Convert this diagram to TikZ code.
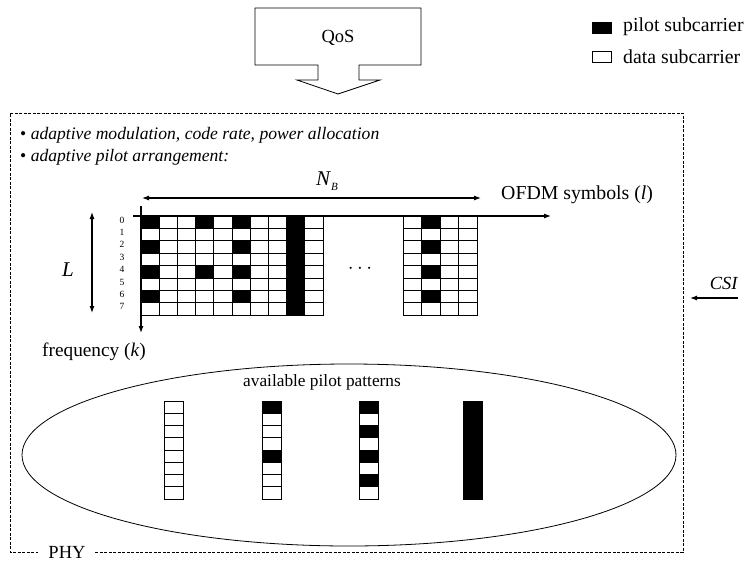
\documentclass[tikz,border=0pt]{standalone}
\usepackage{fontspec}
\setmainfont{Liberation Serif}
\usetikzlibrary{arrows.meta}
\begin{document}
\begin{tikzpicture}[x=1pt,y=-1pt,
  txt/.style={font=\fontsize{18.5}{22}\selectfont, inner sep=0pt},
  bigtxt/.style={font=\fontsize{19.8}{22}\selectfont, inner sep=0pt},
  bullettxt/.style={font=\fontsize{17.6}{20}\selectfont, inner sep=0pt},
  small/.style={font=\fontsize{9.5}{10}\selectfont, inner sep=0pt},
  cell/.style={draw=black, line width=0.8pt, fill=white},
  pilot/.style={draw=black, line width=0.8pt, fill=black},
  axis/.style={line width=1.1pt, -{Latex[length=7pt,width=5pt]}},
  dbl/.style={line width=1.1pt, {Latex[length=7pt,width=5pt]}-{Latex[length=7pt,width=5pt]}},
  phy/.style={line width=1pt, dash pattern=on 3pt off 1.5pt}]
\path[use as bounding box] (0,0) rectangle (752,565);

% QoS block arrow
\draw[line width=0.8pt] (255,8) -- (421,8) -- (421,65) -- (359,65) -- (359,80) -- (380,80)
  -- (338,94) -- (297,80) -- (318,80) -- (318,65) -- (255,65) -- cycle;
\node[txt] (qos) at (338,38) {QoS};

% legend
\fill[pilot] (592,22) rectangle (611,33);
\node[bigtxt, anchor=west] (legp) at (623,27) {pilot subcarrier};
\draw[cell] (592,51) rectangle (611,62);
\node[bigtxt, anchor=west] (legd) at (623,57) {data subcarrier};

% PHY dashed frame
\draw[phy] (95,552) -- (683,552) -- (683,113) -- (10,113) -- (10,552) -- (38,552);
\node[txt] (phy) at (67,552) {PHY};

% bullets
\node[bullettxt, anchor=west] (b1) at (20,135) {\textbullet\ \textit{adaptive modulation, code rate, power allocation}};
\node[bullettxt, anchor=west] (b2) at (20,157) {\textbullet\ \textit{adaptive pilot arrangement:}};

% main grid
\foreach \c in {0,...,9}
  \foreach \r in {0,...,7}
    \draw[cell] ({141+\c*18.2},{216+\r*12.4}) rectangle ++(18.2,12.4);
\foreach \c/\r in {0/0,0/2,0/4,0/6,3/0,3/4,5/0,5/2,5/4,5/6}
  \draw[pilot] ({141+\c*18.2},{216+\r*12.4}) rectangle ++(18.2,12.4);
\draw[pilot] ({141+8*18.2},216) rectangle ++(18.2,99.2);

% second grid
\foreach \c in {0,...,3}
  \foreach \r in {0,...,7}
    \draw[cell] ({403+\c*18.5},{216+\r*12.4}) rectangle ++(18.5,12.4);
\foreach \r in {0,2,4,6}
  \draw[pilot] ({403+18.5},{216+\r*12.4}) rectangle ++(18.5,12.4);

% row labels
\foreach \r in {0,...,7}
  \node[small] (row\r) at (122,{220+\r*12.4}) {\r};

% axes
\coordinate (hx0) at (133,216);
\coordinate (hx1) at (551,216);
\draw[axis] (hx0) -- (hx1);
\coordinate (vy0) at (141,206);
\coordinate (vy1) at (141,333);
\draw[axis] (vy0) -- (vy1);
\node[bigtxt, anchor=west] (ofdm) at (501,195) {OFDM symbols (\textit{l})};
\node[font=\fontsize{19.3}{22}\selectfont, inner sep=0pt, anchor=west] (freq) at (42,352) {frequency (\textit{k})};

% N_B
\coordinate (nb0) at (142,198);
\coordinate (nb1) at (481,198);
\draw[dbl] (nb0) -- (nb1);
\node[font=\fontsize{21}{22}\selectfont, inner sep=0pt] (nb) at (327,181) {\textit{N}\raisebox{-0.45ex}{\fontsize{11}{12}\selectfont\textit{B}}};

% L
\coordinate (l0) at (92,212);
\coordinate (l1) at (92,313);
\draw[dbl] (l0) -- (l1);
\node[font=\fontsize{21}{22}\selectfont, inner sep=0pt] (lbl) at (68,270) {\textit{L}};

% dots
\node[font=\fontsize{22}{24}\selectfont, inner sep=0pt] (dots) at (360,269) {$\cdots$};

% CSI
\coordinate (csi0) at (738,298);
\coordinate (csi1) at (690,298);
\draw[axis] (csi0) -- (csi1);
\node[txt] (csi) at (724,283) {\textit{CSI}};

% available pilot patterns
\draw[line width=0.8pt] (349,455) ellipse [x radius=327, y radius=91];
\node[font=\fontsize{17.3}{20}\selectfont, inner sep=0pt] (avail) at (322,382) {available pilot patterns};
\foreach \x/\blk in {164/{},262/{0,4},359/{0,2,4,6}} {
  \foreach \r in {0,...,7}
    \draw[cell] (\x,{401+\r*12.25}) rectangle ++(19,12.25);
  \foreach \r in \blk
    \draw[pilot] (\x,{401+\r*12.25}) rectangle ++(19,12.25);
}
\draw[pilot] (463,401) rectangle ++(19,98);
\end{tikzpicture}
\end{document}
